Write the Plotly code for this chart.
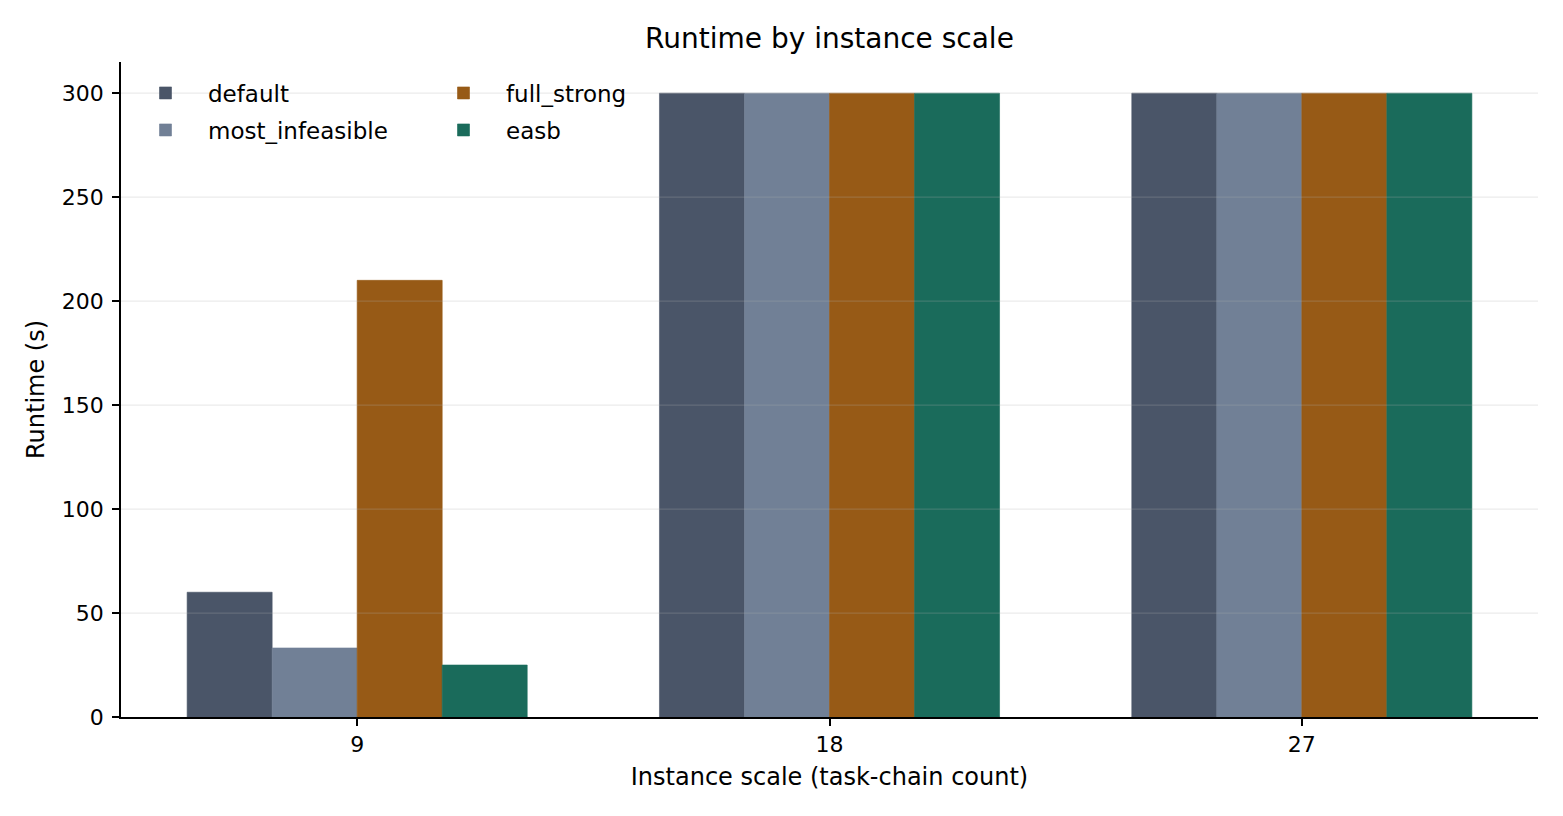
import plotly.graph_objects as go

categories = ["9", "18", "27"]
series_names = ["default", "most_infeasible", "full_strong", "easb"]
default_vals = [60, 300, 300]
most_infeasible_vals = [33.2, 300, 300]
full_strong_vals = [210, 300, 300]
easb_vals = [25, 300, 300]
y_ticks = [0, 50, 100, 150, 200, 250, 300]

colors = ["#4A5568", "#718096", "#975A16", "#1A6B5B"]
values = [default_vals, most_infeasible_vals, full_strong_vals, easb_vals]
legend_ids = ["legend", "legend2", "legend3", "legend4"]

W, H = 1563, 816
L, R, T, B = 121, 25, 62, 99
PW, PH = W - L - R, H - T - B
FONT = "DejaVu Sans"

fig = go.Figure()
for name, vals, col, lg in zip(series_names, values, colors, legend_ids):
    fig.add_trace(go.Bar(x=categories, y=vals, name=name, marker_color=col,
                         marker_line=dict(width=0.6, color=col), legend=lg,
                         showlegend=True))

def legend_at(px, py):
    return dict(x=(px - L) / PW, y=(H - B - py) / PH, xref="paper", yref="paper",
                xanchor="left", yanchor="middle", bgcolor="rgba(0,0,0,0)",
                font=dict(family=FONT, size=23, color="#000"), itemwidth=75,
                visible=True)

# gridlines drawn above bars like the reference
shapes = []
for t in y_ticks[1:]:
    shapes.append(dict(type="line", xref="paper", x0=0, x1=1, yref="y", y0=t, y1=t,
                       line=dict(color="rgba(176,176,176,0.25)", width=1.3), layer="above"))

fig.update_layout(
    width=W, height=H,
    showlegend=True,
    margin=dict(l=L, r=R, t=T, b=B, autoexpand=False),
    paper_bgcolor="white", plot_bgcolor="white",
    font=dict(family=FONT, size=23, color="#000"),
    title=dict(text="Runtime by instance scale", x=829.5 / W, xanchor="center",
               y=1 - 38 / H, yanchor="middle", xref="container", yref="container",
               font=dict(family=FONT, size=28, color="#000")),
    barmode="group", bargap=0.28, bargroupgap=0,
    shapes=shapes,
    legend=legend_at(123, 93),
    legend2=legend_at(123, 130),
    legend3=legend_at(421, 93),
    legend4=legend_at(421, 130),
)
fig.update_xaxes(
    title=dict(text="Instance scale (task-chain count)", standoff=12,
               font=dict(family=FONT, size=24)),
    showline=True, linecolor="black", linewidth=1.5,
    ticks="outside", ticklen=7, tickwidth=1.5, tickcolor="black",
    showgrid=False, range=[-0.5, 2.5], tickfont=dict(size=22),
)
fig.update_yaxes(
    title=dict(text="Runtime (s)", standoff=10, font=dict(family=FONT, size=24)),
    showline=True, linecolor="black", linewidth=1.5,
    ticks="outside", ticklen=7, tickwidth=1.5, tickcolor="black",
    showgrid=False, zeroline=False, range=[0, 315], tickvals=y_ticks,
    tickfont=dict(size=22), ticklabelstandoff=4,
)

fig.write_html("out.html")
